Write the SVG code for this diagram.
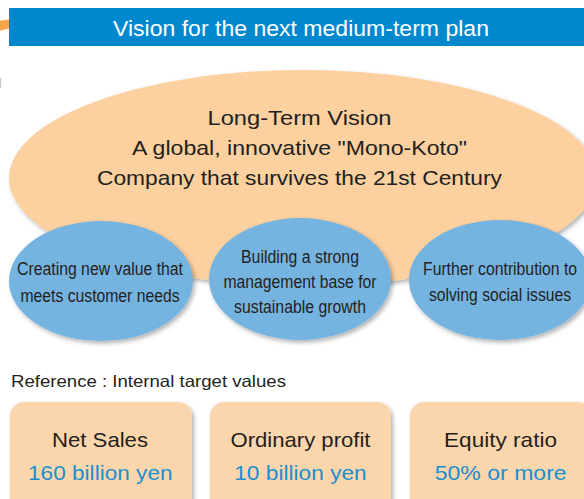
<svg xmlns="http://www.w3.org/2000/svg" width="584" height="499" viewBox="0 0 584 499">
  <defs>
    <filter id="shadow" x="-10%" y="-10%" width="125%" height="130%">
      <feDropShadow dx="2" dy="2.5" stdDeviation="2" flood-color="#000" flood-opacity="0.3"/>
    </filter>
    <style>
      .hdr { fill: #0088CE; }
      .hdr-text { font-family: "Liberation Sans", Arial, sans-serif; font-size: 21.5px; fill: #FFFFFF; text-anchor: middle; }
      .vision { fill: #FCD09F; }
      .vision-text { font-family: "Liberation Sans", Arial, sans-serif; font-size: 21px; fill: #231F20; text-anchor: middle; }
      .pillar { fill: #75B3E1; }
      .pillar-text { font-family: "Liberation Sans", Arial, sans-serif; font-size: 18.5px; fill: #231F20; text-anchor: middle; }
      .note { font-family: "Liberation Sans", Arial, sans-serif; font-size: 16.5px; fill: #231F20; }
      .box { fill: #FBD6AD; }
      .box-title { font-family: "Liberation Sans", Arial, sans-serif; font-size: 21px; fill: #231F20; text-anchor: middle; }
      .box-value { font-family: "Liberation Sans", Arial, sans-serif; font-size: 21px; fill: #1A8FD0; text-anchor: middle; }
    </style>
  </defs>

  <rect width="584" height="499" fill="#FFFFFF"/>

  <!-- orange arrow tail peeking from behind the title bar -->
  <polygon points="0,20.7 10,19.3 10,28.3 0,30.7" fill="#F6A548"/>
  <rect x="0" y="78" width="1.2" height="10" fill="#C8C8C8"/>

  <!-- title bar -->
  <g id="title">
    <rect class="hdr" x="9" y="8" width="575" height="38"/>
    <text class="hdr-text" x="301" y="36" textLength="376" lengthAdjust="spacingAndGlyphs">Vision for the next medium-term plan</text>
  </g>

  <!-- long-term vision -->
  <g id="long-term-vision">
    <ellipse class="vision" cx="303" cy="178" rx="294" ry="108" filter="url(#shadow)"/>
    <text class="vision-text" x="299.5" y="125" textLength="184" lengthAdjust="spacingAndGlyphs">Long-Term Vision</text>
    <text class="vision-text" x="299.5" y="155" textLength="335" lengthAdjust="spacingAndGlyphs">A global, innovative "Mono-Koto"</text>
    <text class="vision-text" x="299.5" y="185" textLength="405" lengthAdjust="spacingAndGlyphs">Company that survives the 21st Century</text>
  </g>

  <!-- three pillars (condensed lettering) -->
  <g id="pillar-value">
    <ellipse class="pillar" cx="101" cy="281" rx="92" ry="60" filter="url(#shadow)"/>
    <g transform="translate(100 0) scale(0.88 1)">
      <text class="pillar-text" x="0" y="275" textLength="188.6" lengthAdjust="spacingAndGlyphs">Creating new value that</text>
      <text class="pillar-text" x="0" y="302" textLength="180.7" lengthAdjust="spacingAndGlyphs">meets customer needs</text>
    </g>
  </g>
  <g id="pillar-management">
    <ellipse class="pillar" cx="300" cy="279" rx="91" ry="61" filter="url(#shadow)"/>
    <g transform="translate(300 0) scale(0.88 1)">
      <text class="pillar-text" x="0" y="263" textLength="134" lengthAdjust="spacingAndGlyphs">Building a strong</text>
      <text class="pillar-text" x="0" y="288" textLength="174" lengthAdjust="spacingAndGlyphs">management base for</text>
      <text class="pillar-text" x="0" y="313" textLength="150" lengthAdjust="spacingAndGlyphs">sustainable growth</text>
    </g>
  </g>
  <g id="pillar-social">
    <ellipse class="pillar" cx="500" cy="280" rx="91" ry="60" filter="url(#shadow)"/>
    <g transform="translate(500 0) scale(0.88 1)">
      <text class="pillar-text" x="0" y="275" textLength="175" lengthAdjust="spacingAndGlyphs">Further contribution to</text>
      <text class="pillar-text" x="0" y="301" textLength="161.4" lengthAdjust="spacingAndGlyphs">solving social issues</text>
    </g>
  </g>

  <g id="connectors"/>

  <text class="note" x="11" y="387" textLength="275" lengthAdjust="spacingAndGlyphs">Reference : Internal target values</text>

  <!-- target value boxes -->
  <g id="target-sales">
    <rect class="box" x="10" y="402" width="182" height="120" rx="14" filter="url(#shadow)"/>
    <text class="box-title" x="100" y="447" textLength="96" lengthAdjust="spacingAndGlyphs">Net Sales</text>
    <text class="box-value" x="100.3" y="480" textLength="144.5" lengthAdjust="spacingAndGlyphs">160 billion yen</text>
  </g>
  <g id="target-profit">
    <rect class="box" x="210" y="402" width="181" height="120" rx="14" filter="url(#shadow)"/>
    <text class="box-title" x="300.5" y="447" textLength="140" lengthAdjust="spacingAndGlyphs">Ordinary profit</text>
    <text class="box-value" x="300.5" y="480" textLength="132.5" lengthAdjust="spacingAndGlyphs">10 billion yen</text>
  </g>
  <g id="target-equity">
    <rect class="box" x="410" y="402" width="182" height="120" rx="14" filter="url(#shadow)"/>
    <text class="box-title" x="500.5" y="447" textLength="113" lengthAdjust="spacingAndGlyphs">Equity ratio</text>
    <text class="box-value" x="500.7" y="480" textLength="132" lengthAdjust="spacingAndGlyphs">50% or more</text>
  </g>
</svg>
